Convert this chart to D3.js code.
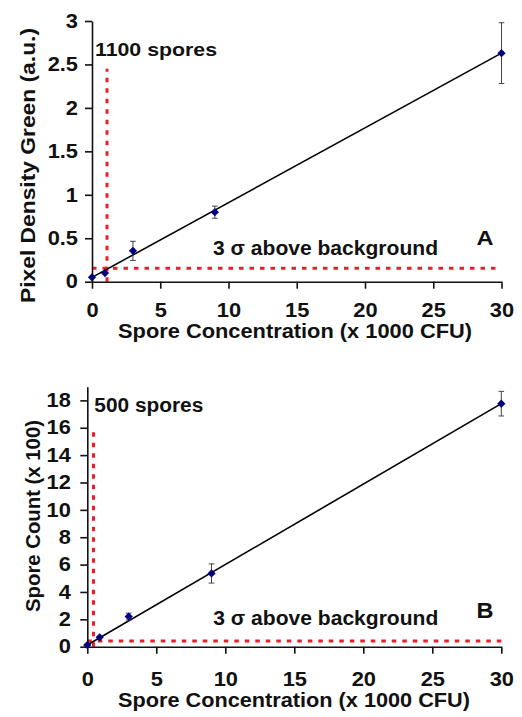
<!DOCTYPE html>
<html><head><meta charset="utf-8">
<script src="https://cdn.jsdelivr.net/npm/d3@7"></script>
<style>
body{margin:0;background:#fff;}
text{font-family:"Liberation Sans",Arial,sans-serif;font-weight:bold;fill:#111;}
</style></head>
<body>
<svg id="c" width="522" height="717"></svg>
<script>
// ---- data ----
const concA = [0, 0.95, 3, 9, 30];
const pixelA = [0.05, 0.10, 0.355, 0.80, 2.63];
const errA = [0, 0, 0.11, 0.07, 0.35];
const fitXA = [0, 30];
const fitYA = [0.05, 2.63];
const bgA = 0.155;          // 3 sigma above background
const limitA = 1.1;         // 1100 spores
const limitTopA = 2.45;

const concB = [0, 0.9, 3, 9, 30];
const countB = [0.12, 0.69, 2.2, 5.35, 17.76];
const errB = [0, 0, 0.25, 0.7, 0.9];
const fitXB = [0, 30];
const fitYB = [0.12, 17.76];
const bgB = 0.42;
const limitB = 0.45;        // 500 spores
const limitTopB = 16;

const xTicks = [0, 5, 10, 15, 20, 25, 30];
const yTicksA = [0, 0.5, 1, 1.5, 2, 2.5, 3];
const yTicksB = [0, 2, 4, 6, 8, 10, 12, 14, 16, 18];

const svg = d3.select("#c");
svg.append("rect").attr("width",522).attr("height",717).attr("fill","#fff");

function txt(x, y, s, size, len, anchor, rot) {
  const t = svg.append("text")
    .attr("font-size", size)
    .attr("text-anchor", anchor || "start")
    .attr("transform", `translate(${x},${y})` + (rot ? ` rotate(${rot})` : ""))
    .text(s);
  if (len) t.attr("textLength", len).attr("lengthAdjust", "spacingAndGlyphs");
  return t;
}

function panel(cfg) {
  const x = d3.scaleLinear().domain([0, 30]).range(cfg.xr);
  const y = d3.scaleLinear().domain(cfg.yd).range(cfg.yr);
  const g = svg.append("g");

  // red dashed lines
  const red = "#ee1c25";
  g.append("line").attr("x1", x(0)).attr("x2", x(30)).attr("y1", y(cfg.bg)).attr("y2", y(cfg.bg))
    .attr("stroke", red).attr("stroke-width", 3).attr("stroke-dasharray", "4.5,6");
  g.append("line").attr("x1", x(cfg.lim)).attr("x2", x(cfg.lim)).attr("y1", y(cfg.yd[0])).attr("y2", y(cfg.limTop))
    .attr("stroke", red).attr("stroke-width", 3).attr("stroke-dasharray", "4.5,6");

  // axes
  const ax = g.append("g").attr("transform", `translate(0,${y(0)})`)
    .call(d3.axisBottom(x).tickValues(xTicks).tickSize(7).tickSizeOuter(0).tickPadding(cfg.xpad).tickFormat(d3.format("d")));
  const ay = g.append("g").attr("transform", `translate(${x(0)},0)`)
    .call(d3.axisLeft(y).tickValues(cfg.yTicks).tickSize(7).tickSizeOuter(0).tickPadding(cfg.ypad).tickFormat(d => String(d)));
  [ax, ay].forEach(a => {
    a.select(".domain").attr("stroke", "#111").attr("stroke-width", 1.6);
    a.selectAll(".tick line").attr("stroke", "#111").attr("stroke-width", 1.6);
    a.selectAll(".tick text").attr("font-size", 19.5).attr("fill", "#111")
      .attr("font-family", '"Liberation Sans",Arial,sans-serif').attr("font-weight", "bold")
      .each(function () {
        const xx = +this.getAttribute("x") || 0;
        const yy = +this.getAttribute("y") || 0;
        this.setAttribute("x", 0); this.setAttribute("y", 0);
        this.setAttribute("transform", `translate(${xx},${yy}) scale(1.12,1)`);
      });
  });

  // fit line
  g.append("line").attr("x1", x(cfg.fitX[0])).attr("x2", x(cfg.fitX[1]))
    .attr("y1", y(cfg.fitY[0])).attr("y2", y(cfg.fitY[1]))
    .attr("stroke", "#000").attr("stroke-width", 1.6);

  // error bars
  cfg.xs.forEach((cx, i) => {
    const e = cfg.err[i];
    if (!e) return;
    const px = x(cx);
    g.append("line").attr("x1", px).attr("x2", px).attr("y1", y(cfg.ys[i] - e)).attr("y2", y(cfg.ys[i] + e))
      .attr("stroke", "#444").attr("stroke-width", 1);
    [cfg.ys[i] - e, cfg.ys[i] + e].forEach(v => {
      g.append("line").attr("x1", px - 2.8).attr("x2", px + 2.8).attr("y1", y(v)).attr("y2", y(v))
        .attr("stroke", "#444").attr("stroke-width", 1);
    });
  });

  // markers
  const sym = d3.symbol().type(d3.symbolSquare).size(34);
  cfg.xs.forEach((cx, i) => {
    g.append("path").attr("d", sym())
      .attr("transform", `translate(${x(cx)},${y(cfg.ys[i])}) rotate(45)`)
      .attr("fill", "#000080");
  });
}

panel({ xr: [92, 501.5], yd: [0, 3], yr: [281.7, 21], yTicks: yTicksA, xs: concA, ys: pixelA, err: errA,
  fitX: fitXA, fitY: fitYA, bg: bgA, lim: limitA, limTop: limitTopA, xpad: 14.5, ypad: 7 });
panel({ xr: [87.3, 501.3], yd: [0, 19], yr: [646.7, 386.7], yTicks: yTicksB, xs: concB, ys: countB, err: errB,
  fitX: fitXB, fitY: fitYB, bg: bgB, lim: limitB, limTop: limitTopB, xpad: 18, ypad: 9.5 });

// texts panel A
txt(295, 337.5, "Spore Concentration (x 1000 CFU)", 19.5, 354, "middle");
txt(35, 165.5, "Pixel Density Green (a.u.)", 21, 275, "middle", -90);
txt(95, 56, "1100 spores", 19, 122, "start");
txt(213, 255.3, "3 σ above background", 20, 225, "start");
txt(476.5, 245, "A", 21, 17, "start");

// texts panel B
txt(294, 706.5, "Spore Concentration (x 1000 CFU)", 19.5, 352, "middle");
txt(40, 516, "Spore Count (x 100)", 20, 192, "middle", -90);
txt(94.3, 412.3, "500 spores", 19.5, 109, "start");
txt(213.3, 625, "3 σ above background", 20, 225, "start");
txt(476.5, 618, "B", 22, 17, "start");
</script>
</body></html>
